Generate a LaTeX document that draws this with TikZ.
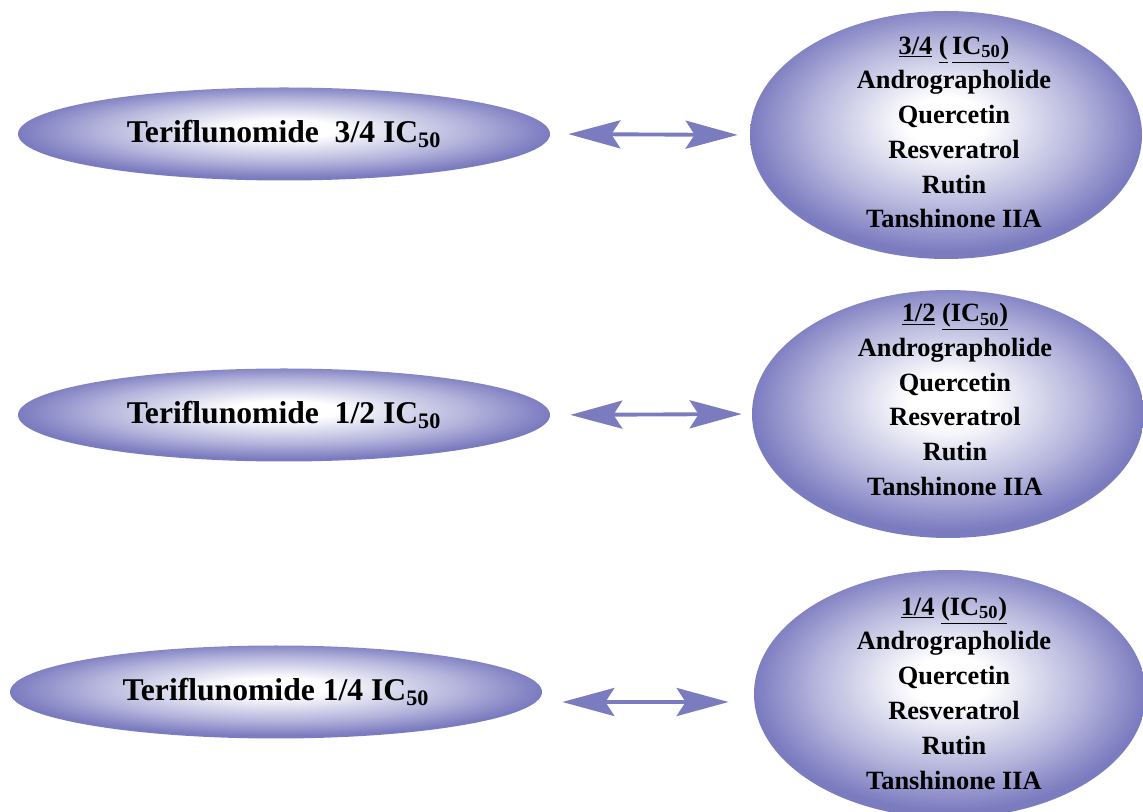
\documentclass[tikz,border=0pt]{standalone}
\usepackage{fontspec}
\setmainfont{Liberation Serif}
\usetikzlibrary{arrows.meta, shapes.geometric}
\definecolor{mviolet}{HTML}{7B7BC0}
\definecolor{mvioletmid}{HTML}{B6B6DD}
\pgfdeclareradialshading{ovalglow}{\pgfpoint{0bp}{3bp}}{%
  color(0bp)=(white); color(5bp)=(white); color(17bp)=(mvioletmid);
  color(25bp)=(mviolet); color(50bp)=(mviolet)}
\tikzset{
  doseoval/.style={ellipse, shading=ovalglow, draw=none, inner sep=0pt,
                   minimum width=10.64cm, minimum height=1.86cm,
                   font=\fontsize{18}{22}\selectfont\bfseries},
  mixoval/.style={ellipse, shading=ovalglow, draw=none, inner sep=0pt,
                  minimum width=7.84cm, minimum height=4.96cm},
  mixlist/.style={align=center, inner sep=0pt,
                  font=\fontsize{15}{19.8}\selectfont\bfseries},
  dblarr/.style={{Stealth[length=1.04cm, width=0.56cm, inset=0.18cm]}-{Stealth[length=1.04cm, width=0.56cm, inset=0.18cm]},
                 line width=2.2pt, mviolet},
}

\begin{document}
\begin{tikzpicture}
  \useasboundingbox (0,0) rectangle (22.86,16.22);
  % left: teriflunomide doses
  \node[doseoval] (dose1) at (5.68, 13.54) {Teriflunomide\ \ 3/4 IC\textsubscript{50}};
  \node[doseoval] (dose2) at (5.68, 7.92) {Teriflunomide\ \ 1/2 IC\textsubscript{50}};
  \node[doseoval] (dose3) at (5.52, 2.38) {Teriflunomide 1/4 IC\textsubscript{50}};
  % right: combination partners
  \node[mixoval] (mix1) at (18.92, 13.52) {};
  \node[mixoval] (mix2) at (18.96, 7.94) {};
  \node[mixoval] (mix3) at (19.00, 2.34) {};
  \node[mixlist] (list1) at (19.08, 13.58) {\underline{3/4} \underline{(}\,\underline{IC\textsubscript{50})}\\
    Andrographolide\\ Quercetin\\ Resveratrol\\ Rutin\\ Tanshinone IIA};
  \node[mixlist] (list2) at (19.10, 8.23) {\underline{1/2} \underline{(IC\textsubscript{50})}\\
    Andrographolide\\ Quercetin\\ Resveratrol\\ Rutin\\ Tanshinone IIA};
  \node[mixlist] (list3) at (19.08, 2.36) {\underline{1/4} \underline{(IC\textsubscript{50})}\\
    Andrographolide\\ Quercetin\\ Resveratrol\\ Rutin\\ Tanshinone IIA};
  % arrows
  \draw[dblarr, shorten <=0.36cm, shorten >=0.24cm] (dose1.east) -- (mix1.west);
  \draw[dblarr, shorten <=0.40cm, shorten >=0.20cm] (dose2.east) -- (mix2.west);
  \draw[dblarr, shorten <=0.40cm, shorten >=0.50cm] ([yshift=-0.2cm]dose3.east) -- ([yshift=-0.16cm]mix3.west);
\end{tikzpicture}
\end{document}
